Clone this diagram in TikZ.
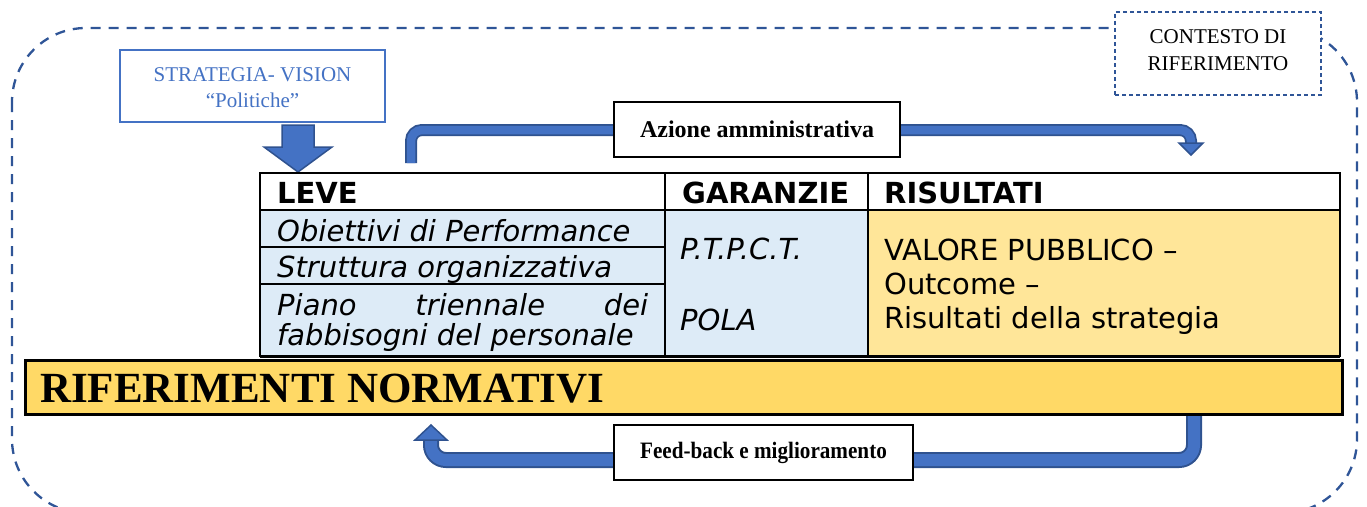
\documentclass[tikz,border=0pt]{standalone}
\usepackage{fontspec}
\setmainfont{Liberation Serif}
\newfontfamily\verd{DejaVu Sans}
\newfontfamily\condserif{Liberation Serif}[FakeStretch=0.9]
\definecolor{bluefill}{HTML}{4472C4}
\definecolor{blueedge}{HTML}{2F528F}
\definecolor{dashblue}{HTML}{2F5597}
\definecolor{lightblue}{HTML}{DDEBF7}
\definecolor{lightyel}{HTML}{FFE699}
\definecolor{baryel}{HTML}{FFD966}
\tikzset{
  outerdash/.style={draw=dashblue, line width=2.3, dash pattern=on 10pt off 8pt},
  ctxbox/.style={draw=dashblue, fill=white, line width=1.2, dash pattern=on 4pt off 3pt, inner sep=0},
  stratbox/.style={draw=bluefill, fill=white, line width=2, inner sep=0},
  serifblue/.style={text=bluefill, font=\fontsize{21}{26}\selectfont, align=center, inner sep=0},
  serifblack/.style={text=black, font=\fontsize{21}{27}\selectfont, align=center, inner sep=0},
  shaftout/.style={draw=blueedge, line width=#1},
  shaftin/.style={draw=bluefill, line width=#1},
  headshape/.style={fill=bluefill, draw=blueedge, line width=1.5, line join=miter},
  tableline/.style={draw=black, line width=2},
  hdr/.style={anchor=base west, inner sep=0, font=\verd\bfseries\fontsize{29}{32}\selectfont},
  itl/.style={anchor=base west, inner sep=0, font=\verd\itshape\fontsize{29}{32}\selectfont},
  reg/.style={anchor=base west, inner sep=0, font=\verd\fontsize{29}{32}\selectfont},
  labelbox/.style={draw=black, fill=white, line width=2.2, inner sep=0},
}
\begin{document}
\begin{tikzpicture}[x=1pt,y=-1pt]
\useasboundingbox (0,0) rectangle (1367,506);
\clip (0,0) rectangle (1367,506);
% outer context frame
\draw[outerdash, rounded corners=74] (12,28) rectangle (1357,513);

% bent arrows
\coordinate (azStart) at (411,163);
\coordinate (azEnd) at (1191,145);
\draw[shaftout=12, rounded corners=11] (azStart) -- ++(0,-33) -| (azEnd);
\draw[shaftin=8.5, rounded corners=11] (azStart) -- ++(0,-33) -| (azEnd);
\draw[headshape] (azEnd) ++(-12,-2) -- ++(24,0) -- ++(-12,12) -- cycle;

\coordinate (fbStart) at (1194,405);
\coordinate (fbEnd) at (431,438);
\draw[shaftout=16, rounded corners=15] (fbStart) -- ++(0,55) -| (fbEnd);
\draw[shaftin=12, rounded corners=15] (fbStart) -- ++(0,55) -| (fbEnd);
\draw[headshape] (fbEnd) ++(-16,2) -- ++(32,0) -- ++(-16,-15) -- cycle;

% strategy box
\node[stratbox, minimum width=265, minimum height=72] (strat) at (252.5,86) {};
\node[serifblue] (stratlabel) at (252.5,88) {STRATEGIA- VISION\\“Politiche”};

% block arrow down
\draw[fill=bluefill, draw=blueedge, line width=1.5, line join=miter]
  (282,125) -- (314,125) -- (314,147) -- (332,147) -- (298,172) -- (264,147) -- (282,147) -- cycle;

% table
\fill[white] (260,173) rectangle (1340,210);
\fill[lightblue] (260,210) rectangle (868,356);
\fill[lightyel] (868,210) rectangle (1340,356);
\draw[tableline] (260,173) rectangle (1340,356);
\draw[tableline] (260,210) -- (1340,210);
\draw[tableline] (665,173) -- (665,356);
\draw[tableline] (868,173) -- (868,356);
\draw[tableline] (260,247) -- (665,247);
\draw[tableline] (260,284) -- (665,284);
\draw[line width=3] (260,356) -- (1340,356);

\node[hdr] (leve) at (277,203) {LEVE};
\node[hdr] (garanzie) at (682,203) {GARANZIE};
\node[hdr] (risultati) at (884,203) {RISULTATI};

\node[itl] (obiettivi) at (277,241) {Obiettivi di Performance};
\node[itl] (struttura) at (277,277) {Struttura organizzativa};
\node[itl] (piano) at (277,315) {\makebox[371pt][s]{Piano triennale dei}};
\node[itl] (fabbisogni) at (277,345) {fabbisogni del personale};

\node[itl] (ptpct) at (680,259) {P.T.P.C.T.};
\node[itl] (pola) at (680,330) {POLA};

\node[reg] (valore) at (884,260) {VALORE PUBBLICO –};
\node[reg] (outcome) at (884,294) {Outcome –};
\node[reg] (risstrat) at (884,328) {Risultati della strategia};

% normative bar
\node[draw=black, fill=baryel, line width=2.5, anchor=north west, minimum width=1317, minimum height=54, inner sep=0] (bar) at (24,359) {};
\node[anchor=base west, inner sep=0, font=\bfseries\fontsize{43}{46}\selectfont] (bartext) at (40,402) {RIFERIMENTI NORMATIVI};

% label boxes
\node[labelbox, minimum width=286, minimum height=55, font=\bfseries\fontsize{24}{26}\selectfont] (azione) at (757,129.5) {Azione amministrativa};
\node[labelbox, minimum width=299, minimum height=55, font=\condserif\bfseries\fontsize{23.5}{26}\selectfont] (feedback) at (763.5,452.5) {Feed-back e miglioramento};

% context box
\node[ctxbox, minimum width=206, minimum height=83] (ctx) at (1218,53.5) {};
\node[serifblack] (ctxlabel) at (1218,50) {CONTESTO DI\\RIFERIMENTO};
\end{tikzpicture}
\end{document}
